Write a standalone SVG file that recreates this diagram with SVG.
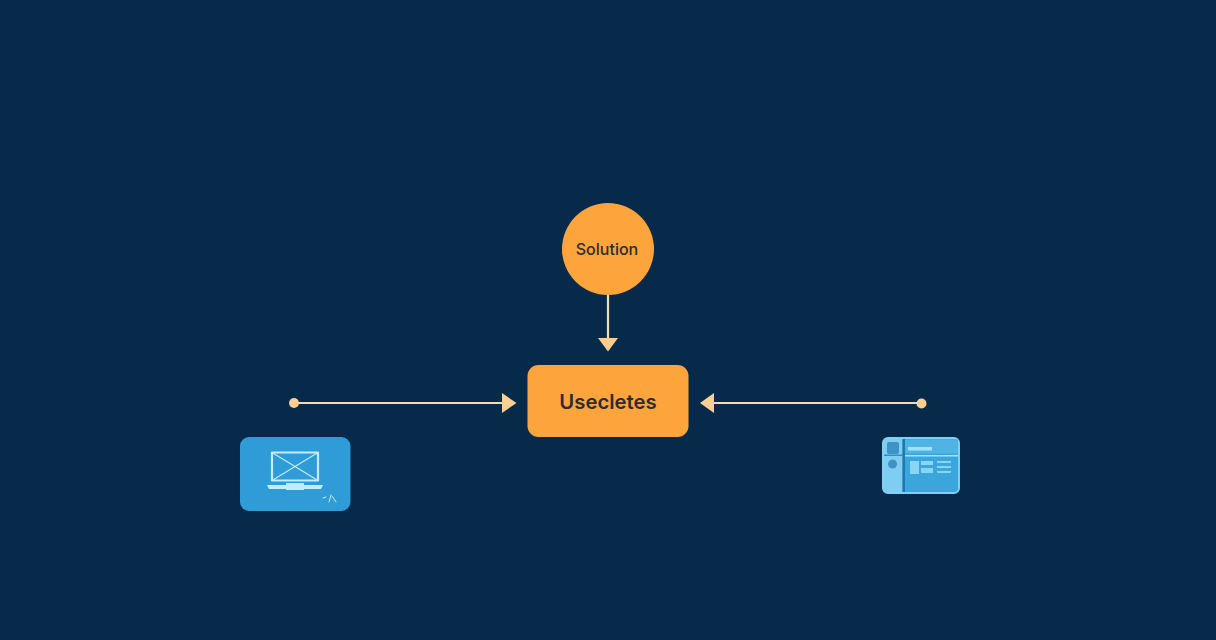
<svg xmlns="http://www.w3.org/2000/svg" width="1216" height="640" viewBox="0 0 1216 640">
<style>
.line{stroke:#f0dcb8;stroke-width:2.2;fill:none}
.head{fill:#fbcf94}
.label{font-family:Inter,"Liberation Sans",sans-serif;fill:#2c2c30;text-anchor:middle}
.ic{stroke:#c4ecfa;fill:none;stroke-linecap:round;stroke-linejoin:round}
.bar{fill:#8ad4f5}
</style>
<rect width="1216" height="640" fill="#072a4b"/>
<g id="connectors">
<line class="line" x1="608" y1="294" x2="608" y2="338"/>
<polygon class="head" points="598,338 618,338 608,351.500"/>
<line class="line" x1="294" y1="403" x2="503" y2="403"/>
<circle class="head" cx="294" cy="403" r="5"/>
<polygon class="head" points="502,393 516.500,403 502,413"/>
<line class="line" x1="714" y1="403" x2="921" y2="403"/>
<circle class="head" cx="921.500" cy="403.500" r="5"/>
<polygon class="head" points="714,393 700,403 714,413"/>
</g>
<g id="node-solution">
<circle cx="608" cy="249" r="46" fill="#fda43c"/>
<text class="label" x="607" y="254.500" font-size="16" font-weight="500">Solution</text>
</g>
<g id="node-usecletes">
<rect x="527.500" y="365" width="161" height="72" rx="11" fill="#fda43c"/>
<text class="label" x="608" y="409" font-size="20.300" font-weight="600">Usecletes</text>
</g>
<g id="node-laptop">
<rect x="240" y="437" width="110.500" height="74" rx="9" fill="#2f9cd8"/>
<rect class="ic" x="272" y="452.500" width="46" height="28" stroke-width="2.200"/>
<path class="ic" d="M272 452.500L318 480.500M318 452.500L272 480.500" stroke-width="1.100"/>
<path d="M267 485H323L321 489H269Z" fill="#c4ecfa"/>
<rect x="286" y="483" width="18" height="7" fill="#c4ecfa"/>
<path class="ic" d="M323 498L326 497M331 495L329 502M332 496L336 502" stroke-width="1"/>
</g>
<g id="node-window">
<rect x="883" y="438" width="76" height="55" rx="5" fill="#3ba6dc" stroke="#7fd0f5" stroke-width="2"/>
<rect x="884" y="439" width="18.500" height="53" fill="#7fcdf2"/>
<rect x="887" y="442" width="12" height="12" rx="2" fill="#3d93c4"/>
<circle cx="892.500" cy="464" r="4.500" fill="#3d93c4"/>
<rect x="884" y="454.500" width="18.500" height="1.500" fill="#2f8fc4"/>
<rect x="902.500" y="439" width="2.500" height="53" fill="#1f78ab"/>
<rect x="905" y="439.500" width="53" height="14" fill="#4fb4e4"/>
<rect x="908" y="447" width="24" height="3.500" fill="#a5e1f8"/>
<rect x="905" y="455" width="53" height="1.500" fill="#a5e1f8"/>
<rect class="bar" x="910" y="461" width="9" height="13"/>
<rect class="bar" x="921" y="461" width="12" height="4"/>
<rect class="bar" x="921" y="468" width="12" height="5"/>
<rect class="bar" x="937" y="461" width="14" height="2"/>
<rect class="bar" x="937" y="466" width="14" height="2"/>
<rect class="bar" x="937" y="471" width="14" height="2"/>
</g>
</svg>
